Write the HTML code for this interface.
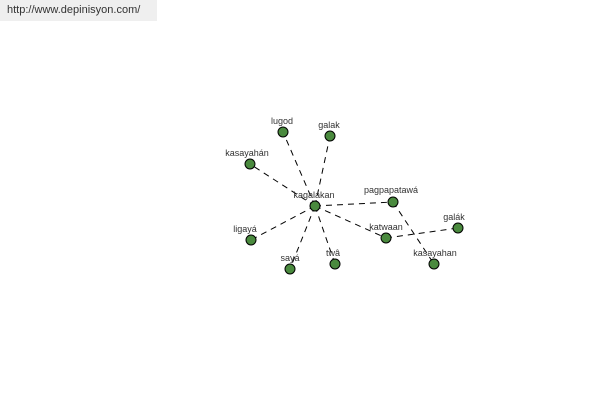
<!DOCTYPE html><html><head><style>body{margin:0;width:600px;height:400px;background:#fff;overflow:hidden;position:relative;font-family:"Liberation Sans",sans-serif}
#h{position:absolute;left:0;top:0;width:157px;height:21px;background:#efefef;font-size:11px;color:#333;line-height:21px;padding-left:7px;box-sizing:border-box}</style></head><body>
<div id="h">http://www.depinisyon.com/</div>
<svg width="600" height="400" style="position:absolute;left:0;top:0" font-family="Liberation Sans, sans-serif" font-size="9" fill="#333">
<g stroke="#000" stroke-width="1" stroke-dasharray="6,5">
<line x1="315" y1="206" x2="283" y2="132"/><line x1="315" y1="206" x2="330" y2="136"/><line x1="315" y1="206" x2="250" y2="164"/><line x1="315" y1="206" x2="393" y2="202"/><line x1="315" y1="206" x2="251" y2="240"/><line x1="315" y1="206" x2="290" y2="269"/><line x1="315" y1="206" x2="335" y2="264"/><line x1="315" y1="206" x2="386" y2="238"/><line x1="386" y1="238" x2="458" y2="228"/><line x1="393" y1="202" x2="434" y2="264"/>
</g>
<g fill="#4a8a3e" stroke="#000" stroke-width="1">
<circle cx="315" cy="206" r="5"/><circle cx="283" cy="132" r="5"/><circle cx="330" cy="136" r="5"/><circle cx="250" cy="164" r="5"/><circle cx="393" cy="202" r="5"/><circle cx="251" cy="240" r="5"/><circle cx="290" cy="269" r="5"/><circle cx="335" cy="264" r="5"/><circle cx="386" cy="238" r="5"/><circle cx="458" cy="228" r="5"/><circle cx="434" cy="264" r="5"/>
</g>
<g text-anchor="middle">
<text x="314" y="198">kagalakan</text><text x="282" y="124">lugod</text><text x="329" y="128">galak</text><text x="247" y="156">kasayahán</text><text x="391" y="193">pagpapatawá</text><text x="245" y="232">ligayá</text><text x="290" y="261">sayá</text><text x="333" y="256">twâ</text><text x="386" y="230">katwaan</text><text x="454" y="220">galák</text><text x="435" y="256">kasayahan</text>
</g></svg></body></html>
